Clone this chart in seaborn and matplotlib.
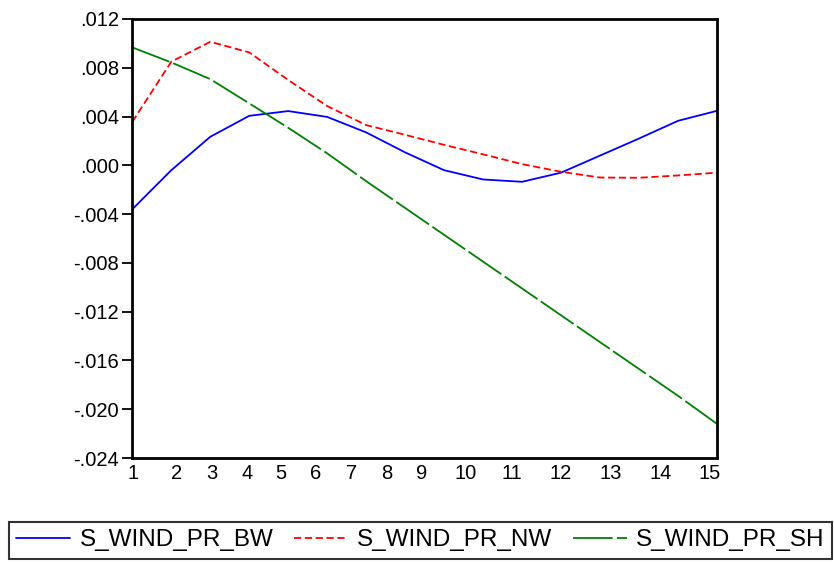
import numpy as np
import pandas as pd
import matplotlib
matplotlib.use("Agg")
import matplotlib.pyplot as plt
from matplotlib.ticker import FuncFormatter
import seaborn as sns

# Impulse responses over 16 steps
step = list(range(16))
s_wind_pr_bw = [-0.0036, -0.0004, 0.00234, 0.00406, 0.00445, 0.00397, 0.0027, 0.00106,
                -0.0004, -0.00116, -0.00135, -0.0006, 0.0008, 0.0022, 0.00365, 0.00447]
s_wind_pr_nw = [0.00357, 0.0085, 0.01013, 0.00926, 0.0070, 0.00486, 0.0033, 0.0025,
                0.00168, 0.0009, 0.0001, -0.00053, -0.0010, -0.00102, -0.00083, -0.0006]
s_wind_pr_sh = [0.00967, 0.00844, 0.00707, 0.00508, 0.00308, 0.00098, -0.0013, -0.0035,
                -0.0057, -0.0079, -0.0101, -0.0123, -0.0145, -0.0167, -0.0189, -0.0212]
series_names = ["S_WIND_PR_BW", "S_WIND_PR_NW", "S_WIND_PR_SH"]
x_tick_labels = [str(i) for i in range(1, 16)]
y_ticks = [-0.024, -0.020, -0.016, -0.012, -0.008, -0.004, 0.000, 0.004, 0.008, 0.012]

df = pd.concat([
    pd.DataFrame({"step": step, "value": vals, "series": name})
    for name, vals in zip(series_names, [s_wind_pr_bw, s_wind_pr_nw, s_wind_pr_sh])
])

sns.set_style("white")
plt.rcParams["font.family"] = ["Liberation Sans", "DejaVu Sans"]
plt.rcParams["text.color"] = "black"

fig = plt.figure(figsize=(8.34, 5.63), dpi=100)
ax = fig.add_axes([132.3 / 834, 1 - 458 / 563, (717 - 132.3) / 834, (458 - 19) / 563])

palette = {"S_WIND_PR_BW": "#0000FF", "S_WIND_PR_NW": "#FF0000", "S_WIND_PR_SH": "#008000"}
dashes = {"S_WIND_PR_BW": "", "S_WIND_PR_NW": (4.0, 2.0), "S_WIND_PR_SH": (22, 2.3)}
sns.lineplot(data=df, x="step", y="value", hue="series", style="series",
             palette=palette, dashes=dashes, linewidth=1.3, ax=ax, legend=True)

ax.set_xlim(0, 15)
ax.set_ylim(-0.024, 0.012)
ax.set_xlabel("")
ax.set_ylabel("")

ax.set_yticks(y_ticks)


def fmt(v, _pos):
    s = f"{v:.3f}"
    if s.startswith("-0."):
        return "-" + s[2:]
    if s.startswith("0."):
        return s[1:]
    return s


ax.yaxis.set_major_formatter(FuncFormatter(fmt))

# period labels laid out along the bottom edge
label_px = [133, 177, 212, 247, 281, 316, 352, 387, 422, 466, 512, 561, 611, 661, 710]
ax.set_xticks([(p - 132.3) / 39.0 for p in label_px])
ax.set_xticklabels(x_tick_labels)

ax.tick_params(axis="y", direction="out", length=7.5, width=1.3, pad=2,
               labelsize=14.5, colors="black", left=True)
ax.tick_params(axis="x", length=0, pad=4, labelsize=14.5, colors="black")
for sp in ax.spines.values():
    sp.set_visible(True)
    sp.set_color("black")
    sp.set_linewidth(2.0)

handles, labels = ax.get_legend_handles_labels()
ax.get_legend().remove()
leg = fig.legend(handles, labels, loc="upper left", ncol=3,
                 bbox_to_anchor=(9 / 834, 1 - 522 / 563),
                 bbox_transform=fig.transFigure, borderaxespad=0,
                 fontsize=17.5, frameon=True, fancybox=False,
                 handlelength=2.2, handletextpad=0.4, columnspacing=0.85,
                 borderpad=0.3, labelcolor="black")
leg.get_frame().set_edgecolor("black")
leg.get_frame().set_linewidth(1.5)
for h in leg.get_lines():
    h.set_linewidth(1.3)

fig.savefig("out.png", dpi=100)
